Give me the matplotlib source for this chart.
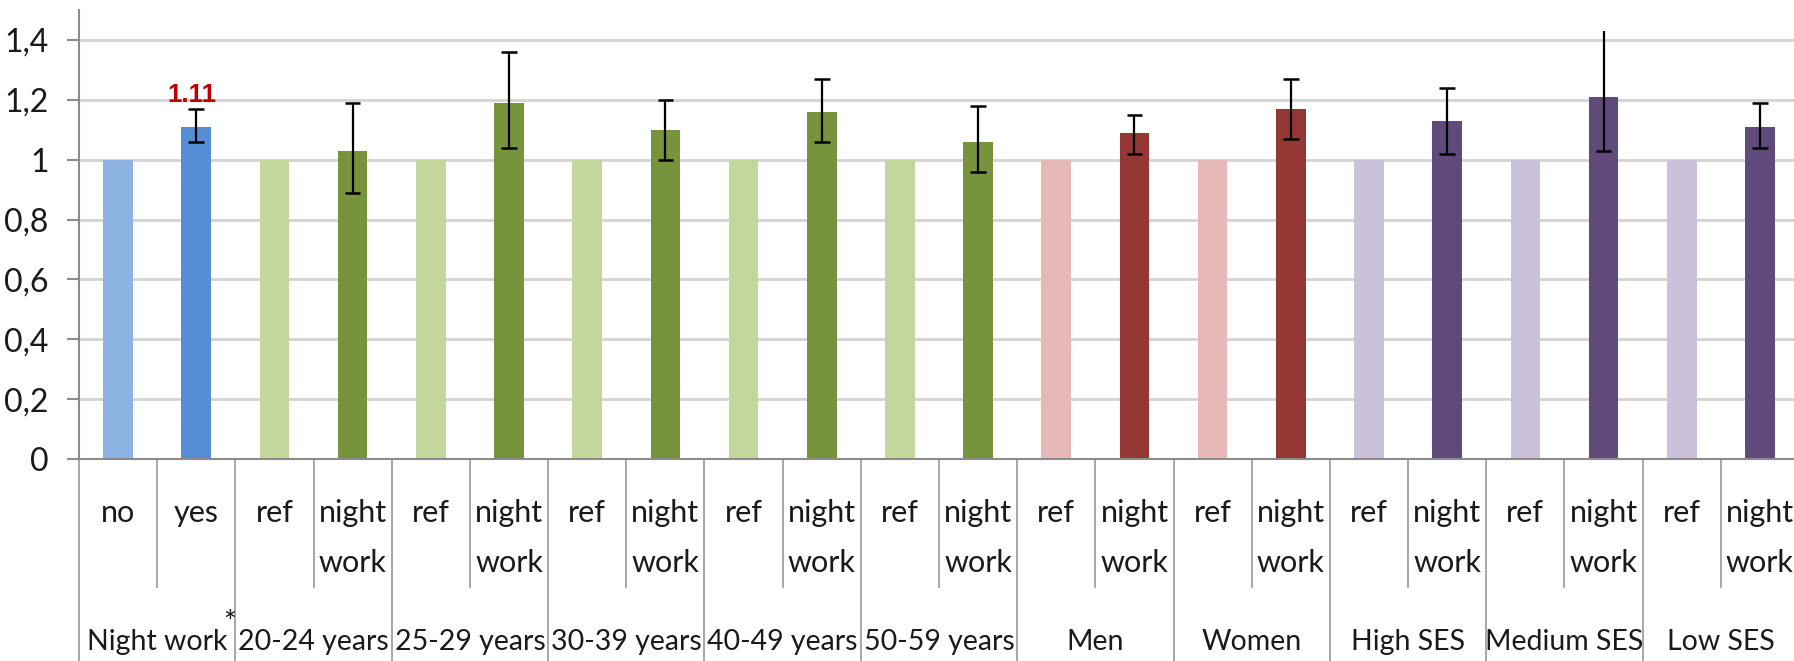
import numpy as np
import matplotlib.pyplot as plt
import matplotlib.transforms as mtransforms
from matplotlib.lines import Line2D

plt.rcParams['font.family'] = ['Lato', 'DejaVu Sans']

# === Data ===
bar_labels = ['no', 'yes'] + ['ref', 'night\nwork'] * 10
group_labels = ['Night work', '20-24 years', '25-29 years', '30-39 years', '40-49 years',
                '50-59 years', 'Men', 'Women', 'High SES', 'Medium SES', 'Low SES']
values = [1.00, 1.11, 1.00, 1.03, 1.00, 1.19, 1.00, 1.10, 1.00, 1.16, 1.00, 1.06,
          1.00, 1.09, 1.00, 1.17, 1.00, 1.13, 1.00, 1.21, 1.00, 1.11]
ci_low = [np.nan, 1.06, np.nan, 0.89, np.nan, 1.04, np.nan, 1.00, np.nan, 1.06, np.nan, 0.96,
          np.nan, 1.02, np.nan, 1.07, np.nan, 1.02, np.nan, 1.03, np.nan, 1.04]
ci_high = [np.nan, 1.17, np.nan, 1.19, np.nan, 1.36, np.nan, 1.20, np.nan, 1.27, np.nan, 1.18,
           np.nan, 1.15, np.nan, 1.27, np.nan, 1.24, np.nan, 1.43, np.nan, 1.19]
yticks = [0, 0.2, 0.4, 0.6, 0.8, 1.0, 1.2, 1.4]
ytick_labels = ['0', '0,2', '0,4', '0,6', '0,8', '1', '1,2', '1,4']

# colours per group: (light, dark)
group_colors = [('#8db3e2', '#558ed5')] + [('#c3d69b', '#77933c')] * 5 \
    + [('#e6b9b8', '#953735')] * 2 + [('#ccc1da', '#604a7b')] * 3
colors = [c for pair in group_colors for c in pair]

W, H = 1794, 661
fig = plt.figure(figsize=(W / 100, H / 100), dpi=100)
ax = fig.add_axes([79 / W, 1 - 459 / H, 1720 / W, 449 / H])

x = np.arange(len(values))
ax.bar(x, values, width=0.38, color=colors, zorder=2)

# error bars (the one running off the top has no upper cap)
lo = np.array(ci_low)
hi = np.array(ci_high)
m = ~np.isnan(lo)
ax.vlines(x[m], lo[m], hi[m], color='black', lw=1.6, zorder=3)
ax.hlines(lo[m], x[m] - 0.1, x[m] + 0.1, color='black', lw=1.8, zorder=3)
capped = m & (hi < 1.4)
ax.hlines(hi[capped], x[capped] - 0.1, x[capped] + 0.1, color='black', lw=1.8, zorder=3)

ax.text(1 - 0.06, 1.215, f'{values[1]:.2f}', color='#c00000', fontsize=18.5,
        fontweight='bold', family=['Liberation Sans', 'DejaVu Sans'],
        ha='center', va='center', zorder=4)

ax.set_xlim(-0.5, len(values) - 0.5)
ax.set_ylim(0, 1.5)
ax.set_yticks(yticks)
ax.set_yticklabels(ytick_labels)
ax.set_xticks([])
ax.yaxis.grid(True, color='#d4d4d4', lw=2)
ax.set_axisbelow(True)
for s in ['top', 'right']:
    ax.spines[s].set_visible(False)
for s in ['left', 'bottom']:
    ax.spines[s].set_color('#8c8c8c')
    ax.spines[s].set_linewidth(1.5)
ax.tick_params(axis='y', direction='out', length=9, width=1.5, color='#8c8c8c',
               labelsize=23, pad=13, labelcolor='#1a1a1a')

# category labels and dividers below the axis
trans = mtransforms.blended_transform_factory(ax.transData, fig.transFigure)
def fy(px):
    return 1 - px / H

for i, lab in enumerate(bar_labels):
    for k, line in enumerate(lab.split('\n')):
        ax.text(i, fy(522 + 50 * k), line, transform=trans, ha='center', va='baseline',
                fontsize=22, color='#1a1a1a', clip_on=False)
for g, lab in enumerate(group_labels):
    ax.text(2 * g + 0.5, fy(650), lab, transform=trans, ha='center', va='baseline',
            fontsize=20.5, color='#1a1a1a', clip_on=False)
ax.text(1.43, fy(632), '*', transform=trans, ha='center', va='baseline',
        fontsize=22, color='#1a1a1a', clip_on=False)

for g in range(len(group_labels) + 1):
    ax.add_line(Line2D([2 * g - 0.5] * 2, [fy(459), fy(H + 5)], transform=trans,
                       color='#a0a0a0', lw=1.3, clip_on=False))
for g in range(len(group_labels)):
    ax.add_line(Line2D([2 * g + 0.5] * 2, [fy(459), fy(587)], transform=trans,
                       color='#a0a0a0', lw=1.3, clip_on=False))

fig.savefig('out.png', dpi=100, facecolor='white')
